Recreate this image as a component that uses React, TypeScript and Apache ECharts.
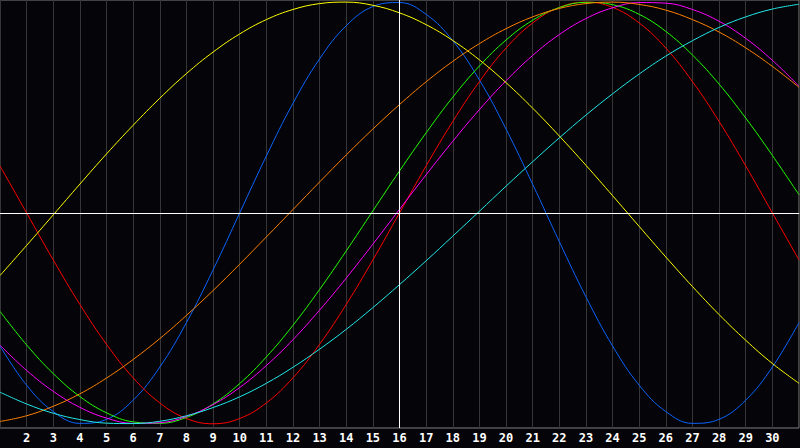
import React, { useEffect, useRef } from "react";
import * as echarts from "echarts";

const days = [1, 2, 3, 4, 5, 6, 7, 8, 9, 10, 11, 12, 13, 14, 15, 16, 17, 18, 19, 20, 21, 22, 23, 24, 25, 26, 27, 28, 29, 30, 31];

const blue = [-0.631, -0.817, -0.942, -0.998, -0.979, -0.888, -0.731, -0.52, -0.27, 0, 0.27, 0.52, 0.731, 0.888, 0.979, 0.998, 0.942, 0.817, 0.631, 0.398, 0.136, -0.136, -0.398, -0.631, -0.817, -0.942, -0.998, -0.979, -0.888, -0.731, -0.52];
const red = [0.223, 0, -0.223, -0.434, -0.623, -0.782, -0.901, -0.975, -1, -0.975, -0.901, -0.782, -0.623, -0.434, -0.223, 0, 0.223, 0.434, 0.623, 0.782, 0.901, 0.975, 1, 0.975, 0.901, 0.782, 0.623, 0.434, 0.223, 0, -0.223];
const green = [-0.467, -0.626, -0.762, -0.871, -0.948, -0.991, -0.998, -0.97, -0.906, -0.809, -0.683, -0.533, -0.363, -0.18, 0.01, 0.199, 0.38, 0.549, 0.697, 0.82, 0.914, 0.974, 0.999, 0.988, 0.942, 0.861, 0.749, 0.611, 0.45, 0.273, 0.086];
const magenta = [-0.627, -0.747, -0.846, -0.922, -0.973, -0.998, -0.995, -0.965, -0.909, -0.828, -0.724, -0.601, -0.461, -0.309, -0.148, 0.017, 0.181, 0.34, 0.49, 0.627, 0.747, 0.846, 0.922, 0.973, 0.998, 0.995, 0.965, 0.909, 0.828, 0.724, 0.601];
const yellow = [-0.297, -0.154, -0.009, 0.137, 0.28, 0.416, 0.544, 0.661, 0.763, 0.849, 0.917, 0.965, 0.993, 1.0, 0.985, 0.949, 0.893, 0.818, 0.726, 0.618, 0.497, 0.365, 0.226, 0.082, -0.064, -0.209, -0.349, -0.482, -0.604, -0.714, -0.808];
const orange = [-0.989, -0.962, -0.917, -0.858, -0.783, -0.695, -0.596, -0.486, -0.368, -0.243, -0.114, 0.016, 0.147, 0.275, 0.398, 0.514, 0.622, 0.719, 0.803, 0.874, 0.93, 0.97, 0.993, 1.0, 0.989, 0.962, 0.917, 0.858, 0.783, 0.695, 0.596];
const cyan = [-0.85, -0.906, -0.95, -0.98, -0.997, -0.999, -0.988, -0.962, -0.923, -0.872, -0.808, -0.732, -0.646, -0.552, -0.449, -0.34, -0.227, -0.11, 0.008, 0.127, 0.243, 0.356, 0.464, 0.565, 0.659, 0.744, 0.817, 0.88, 0.93, 0.967, 0.99];

const markDay = 16;

const seriesDefs = [
  { name: "blue", color: "#0a64ff", data: blue },
  { name: "red", color: "#ff0000", data: red },
  { name: "green", color: "#22ff00", data: green },
  { name: "magenta", color: "#ff00ff", data: magenta },
  { name: "yellow", color: "#ffff00", data: yellow },
  { name: "orange", color: "#ff8000", data: orange },
  { name: "cyan", color: "#22e8e8", data: cyan },
];

export default function App() {
  const ref = useRef<HTMLDivElement>(null);
  useEffect(() => {
    document.body.style.margin = "0";
    document.body.style.background = "#050408";
    const chart = echarts.init(ref.current!, undefined, { renderer: "svg" });
    const series: any[] = [
      {
        type: "line",
        name: "marks",
        data: [],
        z: 1,
        markLine: {
          silent: true,
          symbol: "none",
          animation: false,
          label: { show: false },
          lineStyle: { color: "#ffffff", type: "solid", width: 1 },
          data: [{ xAxis: markDay }, { yAxis: 0 }],
        },
      },
    ];
    seriesDefs.forEach((s) => {
      series.push({
        type: "line",
        name: s.name,
        data: days.map((d, i) => [d, s.data[i]]),
        showSymbol: false,
        smooth: 0.4,
        z: 2,
        lineStyle: { color: s.color, width: 1 },
        itemStyle: { color: s.color },
      });
    });
    chart.setOption({
      animation: false,
      backgroundColor: "#050408",
      grid: {
        left: 0,
        right: 1,
        top: 0,
        bottom: 20,
        show: true,
        borderColor: "#808080",
        borderWidth: 1,
        backgroundColor: "transparent",
      },
      xAxis: {
        type: "value",
        min: 1,
        max: 31,
        interval: 1,
        axisLine: { show: true, lineStyle: { color: "#a0a0a0", width: 1 } },
        axisTick: { show: false },
        axisLabel: {
          show: true,
          showMinLabel: false,
          showMaxLabel: false,
          color: "#ffffff",
          fontFamily: "DejaVu Sans Mono",
          fontWeight: "bold",
          fontSize: 12,
          margin: 4,
        },
        splitLine: { show: true, lineStyle: { color: "#363636", width: 1 } },
      },
      yAxis: {
        type: "value",
        min: -1.02,
        max: 1.01,
        axisLine: { show: false },
        axisTick: { show: false },
        axisLabel: { show: false },
        splitLine: { show: false },
      },
      series,
    });
    return () => chart.dispose();
  }, []);
  return (
    <div
      ref={ref}
      style={{ position: "fixed", left: 0, top: 0, width: 800, height: 448, background: "#050408" }}
    />
  );
}
